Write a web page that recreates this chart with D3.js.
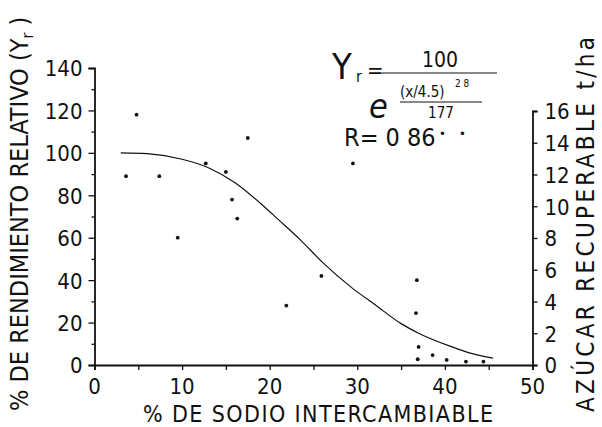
<!DOCTYPE html>
<html>
<head>
<meta charset="utf-8">
<script src="https://cdn.jsdelivr.net/npm/d3@7"></script>
<style>
  body { margin: 0; background: #fff; }
  text { font-family: "DejaVu Sans Condensed", "DejaVu Sans", sans-serif; font-stretch: condensed; fill: #111; }
</style>
</head>
<body>
<div id="chart"></div>
<script>
const width = 602,
    height = 427;

// observed points (% sodio intercambiable, % rendimiento relativo)
const sodio = [3.6, 4.8, 7.4, 9.5, 12.7, 15.0, 15.7, 16.3, 17.5, 21.9, 25.9, 29.5, 36.8, 36.7, 37.0, 36.9, 38.6, 40.2, 42.4, 44.4];
const rendimiento = [89, 118, 89, 60, 95, 91, 78, 69, 107, 28, 42, 95, 40, 24.5, 8.5, 2.7, 4.7, 2.4, 1.6, 1.6];

// fitted curve
const curveX = [3, 6, 10, 13, 16, 19, 21, 23.5, 26, 29.5, 32, 35, 37, 40.5, 43, 45.5];
const curveY = [100, 99.6, 97, 93, 86, 76, 68.5, 59, 48.5, 36, 28.5, 19.5, 15, 9, 5.5, 3.2];

const xTicks = [0, 10, 20, 30, 40, 50];
const yTicks = [0, 20, 40, 60, 80, 100, 120, 140];
const y2Ticks = [0, 2, 4, 6, 8, 10, 12, 14, 16];

const svg = d3.select("#chart").append("svg")
    .attr("width", width)
    .attr("height", height);

const x = d3.scaleLinear().domain([0, 50]).range([94.5, 532.5]);
const y = d3.scaleLinear().domain([0, 140]).range([365, 68]);
const y2 = d3.scaleLinear().domain([0, 16]).range([365, 111]);

// bottom axis
svg.append("g")
    .attr("transform", "translate(0,365)")
    .call(d3.axisBottom(x).tickValues(d3.range(0, 51, 5)).tickSize(5).tickFormat(""));
svg.append("g").selectAll("text")
    .data(xTicks)
    .join("text")
    .attr("x", d => x(d))
    .attr("y", 394)
    .attr("text-anchor", "middle")
    .attr("font-size", 22)
    .text(d => d);

// left axis
const yAxis = svg.append("g")
    .attr("transform", "translate(94.5,0)")
    .call(d3.axisLeft(y).tickValues(yTicks).tickSize(6).tickPadding(6).tickFormat(d3.format("d")));
yAxis.selectAll("text").attr("font-size", 22).attr("dy", "0.36em");
svg.append("g")
    .attr("transform", "translate(94.5,0)")
    .call(d3.axisLeft(y).tickValues(d3.range(10, 140, 20)).tickSize(3).tickFormat(""))
    .select(".domain").remove();

// right axis
const y2Axis = svg.append("g")
    .attr("transform", "translate(532.5,0)")
    .call(d3.axisRight(y2).tickValues(y2Ticks).tickSize(5).tickPadding(7).tickFormat(d3.format("d")));
y2Axis.selectAll("text").attr("font-size", 22).attr("dy", "0.36em");

svg.selectAll(".domain").attr("stroke", "#111").attr("stroke-width", 1.8);
svg.selectAll(".tick line").attr("stroke", "#111").attr("stroke-width", 1.3);

// fitted curve
const line = d3.line()
    .x(d => x(d[0]))
    .y(d => y(d[1]))
    .curve(d3.curveMonotoneX);
svg.append("path")
    .datum(d3.zip(curveX, curveY))
    .attr("d", line)
    .attr("fill", "none")
    .attr("stroke", "#111")
    .attr("stroke-width", 1.2);

// points
svg.append("g").selectAll("circle")
    .data(d3.zip(sodio, rendimiento))
    .join("circle")
    .attr("cx", d => x(d[0]))
    .attr("cy", d => y(d[1]))
    .attr("r", 1.9)
    .attr("fill", "#111");

// axis titles
svg.append("text")
    .attr("x", 318)
    .attr("y", 422)
    .attr("text-anchor", "middle")
    .attr("font-size", 23)
    .attr("textLength", 350)
    .text("% DE SODIO INTERCAMBIABLE");

const yTitle = svg.append("text")
    .attr("transform", "translate(28,411) rotate(-90)")
    .attr("font-size", 25);
yTitle.append("tspan").text("% DE RENDIMIENTO RELATIVO (Y");
yTitle.append("tspan").attr("font-size", 16).attr("dy", 5).text("r");
yTitle.append("tspan").attr("dy", -5).text(" )");

svg.append("text")
    .attr("transform", "translate(594,412) rotate(-90)")
    .attr("font-size", 24)
    .attr("textLength", 375)
    .text("AZÚCAR RECUPERABLE t/ha");

// equation
const eq = svg.append("g");
eq.append("text").attr("x", 332).attr("y", 79).attr("font-size", 36).text("Y");
eq.append("text").attr("x", 356).attr("y", 82).attr("font-size", 16).text("r");
eq.append("text").attr("x", 367).attr("y", 78).attr("font-size", 22).text("=");
eq.append("line").attr("x1", 382).attr("x2", 497).attr("y1", 73).attr("y2", 73)
    .attr("stroke", "#111").attr("stroke-width", 1.2);
eq.append("text").attr("x", 440).attr("y", 67).attr("text-anchor", "middle").attr("font-size", 21).text("100");
eq.append("text").attr("x", 369).attr("y", 118).attr("font-size", 34)
    .attr("font-style", "italic").attr("font-family", "DejaVu Serif").text("e");
eq.append("text").attr("x", 400).attr("y", 97).attr("font-size", 15).text("(x/4.5)");
eq.append("text").attr("x", 455).attr("y", 87).attr("font-size", 10).text("2  8");
eq.append("line").attr("x1", 400).attr("x2", 482).attr("y1", 102).attr("y2", 102)
    .attr("stroke", "#111").attr("stroke-width", 1);
eq.append("text").attr("x", 441).attr("y", 118).attr("text-anchor", "middle").attr("font-size", 15).text("177");
eq.append("text").attr("x", 344).attr("y", 146).attr("font-size", 25).text("R= 0 86");
eq.append("text").attr("x", 439).attr("y", 138).attr("font-size", 13).text("•");
eq.append("text").attr("x", 459).attr("y", 138).attr("font-size", 13).text("•");
</script>
</body>
</html>
